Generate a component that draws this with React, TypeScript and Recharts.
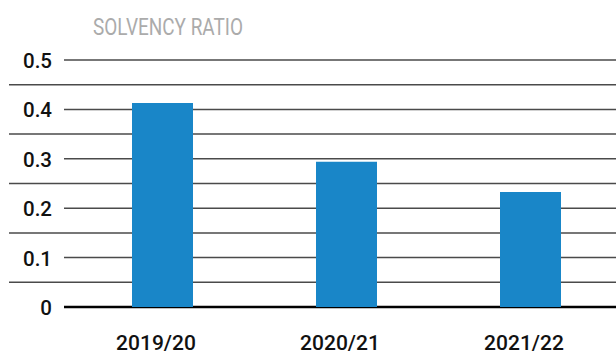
import React from "react";
import {
  Bar,
  BarChart,
  CartesianGrid,
  Rectangle,
  XAxis,
  YAxis,
} from "recharts";

const years = ["2019/20", "2020/21", "2021/22"];
const solvency = [0.413, 0.294, 0.233];
const yTicks = [0, 0.05, 0.1, 0.15, 0.2, 0.25, 0.3, 0.35, 0.4, 0.45, 0.5];

const data = years.map((year, i) => ({ year, ratio: solvency[i] }));

const FONT = "Roboto, 'Liberation Sans', Arial, sans-serif";
const isMajor = (v: number) => Math.round(v * 100) % 10 === 0;

function GridLine(props: any) {
  const { x1, x2, y1, y2, index } = props;
  const v = yTicks[index];
  if (v === 0) {
    return <line x1={x1} x2={x2} y1={y1} y2={y2} stroke="#000" strokeWidth={2.5} />;
  }
  // the in-between lines run out under the tick labels
  const start = isMajor(v) ? x1 : 9;
  return <line x1={start} x2={x2} y1={y1} y2={y2} stroke="#4a4a4a" strokeWidth={1.5} />;
}

function YTick({ y, payload }: any) {
  if (!isMajor(payload.value)) return <g />;
  return (
    <text
      x={52}
      y={y + 1}
      textAnchor="end"
      dominantBaseline="central"
      fontFamily={FONT}
      fontWeight={500}
      fontSize={20.5}
      fill="#111"
    >
      {payload.value === 0 ? "0" : payload.value.toFixed(1)}
    </text>
  );
}

function XTick({ x, y, payload }: any) {
  return (
    <text
      x={x}
      y={y + 43}
      textAnchor="middle"
      fontFamily={FONT}
      fontWeight={500}
      fontSize={21}
      fill="#111"
    >
      {payload.value}
    </text>
  );
}

// bars sit a little right of their labels in the original
const ShiftedBar = (props: any) => <Rectangle {...props} x={props.x + 6} />;

export default function App() {
  return (
    <div style={{ position: "absolute", left: 0, top: 0, width: 616, height: 354, background: "#fff" }}>
      <BarChart
        width={616}
        height={354}
        data={data}
        margin={{ top: 60, right: 0, bottom: 0, left: 0 }}
      >
        <CartesianGrid vertical={false} horizontal={(p: any) => <GridLine {...p} />} />
        <YAxis
          width={64}
          domain={[0, 0.5]}
          ticks={yTicks}
          interval={0}
          axisLine={false}
          tickLine={false}
          tick={<YTick />}
        />
        <XAxis
          dataKey="year"
          height={47}
          axisLine={false}
          tickLine={false}
          tickSize={0}
          tickMargin={0}
          interval={0}
          tick={<XTick />}
        />
        <Bar
          dataKey="ratio"
          fill="#1986c8"
          barSize={61}
          shape={ShiftedBar}
          isAnimationActive={false}
        />
      </BarChart>
      <svg
        width={616}
        height={354}
        style={{ position: "absolute", left: 0, top: 0, pointerEvents: "none" }}
      >
        <text
          x={93}
          y={35}
          fontFamily={FONT}
          fontWeight={400}
          fontSize={23}
          fill="#ababab"
          textLength={150}
          lengthAdjust="spacingAndGlyphs"
        >
          SOLVENCY RATIO
        </text>
      </svg>
    </div>
  );
}
